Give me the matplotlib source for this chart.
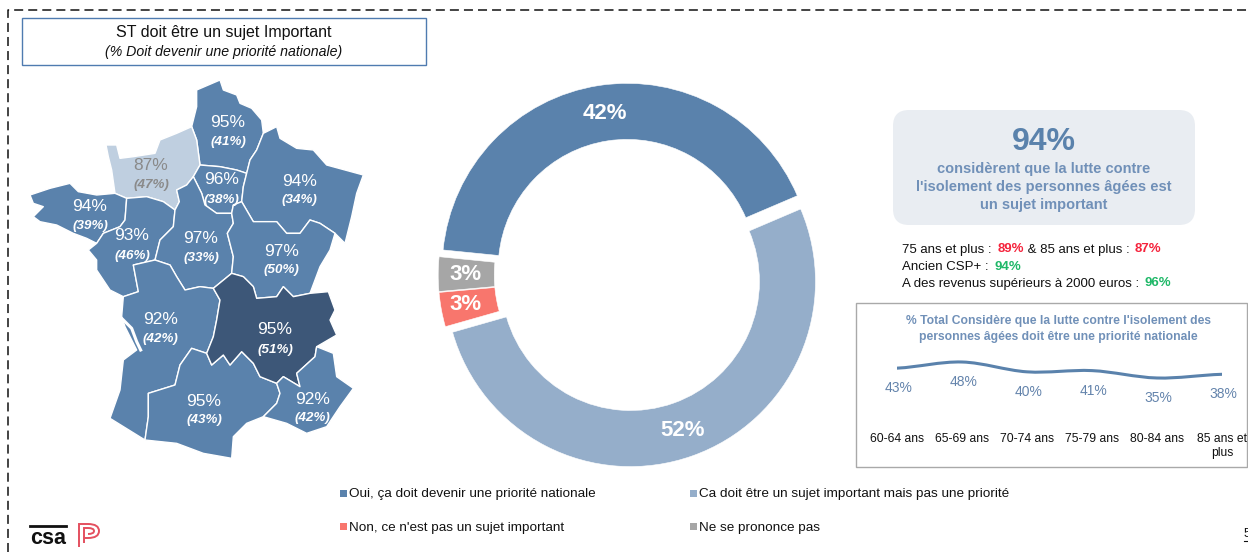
import matplotlib
matplotlib.use("Agg")
import matplotlib.pyplot as plt
from matplotlib.patches import Polygon, Rectangle, FancyBboxPatch, PathPatch
from matplotlib.path import Path

plt.rcParams['font.family'] = ['Liberation Sans', 'DejaVu Sans']

W, H = 1248, 552
DARK = '#5a82ac'
LIGHT = '#95aeca'
NAVY = '#3d5778'
PALE = '#bfcfe0'
RED = '#f8766d'
GRAY = '#a6a6a6'
TXT = '#111111'

# ---- data ----
donut_values = [42, 52, 3, 3]
donut_labels = ['42%', '52%', '3%', '3%']
donut_colors = [DARK, LIGHT, RED, GRAY]
legend_labels = ['Oui, ça doit devenir une priorité nationale',
                 'Ca doit être un sujet important mais pas une priorité',
                 "Non, ce n'est pas un sujet important",
                 'Ne se prononce pas']
age_groups = ['60-64 ans', '65-69 ans', '70-74 ans', '75-79 ans', '80-84 ans', '85 ans et\nplus']
age_values = [43, 48, 40, 41, 35, 38]
region_top = ['95%', '87%', '96%', '94%', '94%', '93%', '97%', '97%', '92%', '95%', '95%', '92%']
region_sub = ['(41%)', '(47%)', '(38%)', '(34%)', '(39%)', '(46%)', '(33%)', '(50%)', '(42%)', '(43%)', '(51%)', '(42%)']

# map outlines, traced in crop coordinates of the map picture
hdf = [(530,60),(600,30),(610,60),(650,75),(660,100),(695,115),(725,150),(730,190),(710,240),(690,270),(680,310),(650,300),(600,290),(540,285),(530,210),(515,170),(520,150),(530,110)]
nor = [(258,225),(290,225),(300,265),(340,260),(405,250),(420,210),(470,190),(515,170),(530,210),(540,285),(520,320),(500,345),(470,360),(478,395),(465,420),(430,395),(380,380),(320,385),(285,370),(275,300),(265,260)]
idf = [(540,285),(600,290),(650,300),(680,310),(670,350),(665,395),(640,405),(635,430),(590,430),(555,405),(545,370),(520,320)]
ges = [(730,190),(770,170),(780,205),(830,235),(880,240),(920,285),(1030,315),(1010,370),(995,440),(975,520),(945,490),(900,460),(870,450),(840,490),(800,490),(770,455),(700,455),(665,395),(670,350),(680,310),(690,270),(710,240)]
bre = [(30,375),(90,355),(150,340),(175,365),(230,375),(285,370),(320,385),(315,450),(300,470),(250,490),(230,520),(200,505),(160,490),(110,465),(60,455),(40,440),(70,410),(40,400)]
pdl = [(320,385),(380,380),(430,395),(465,420),(460,470),(420,510),(405,570),(340,585),(355,665),(310,680),(270,660),(230,600),(230,570),(205,540),(230,520),(250,490),(300,470),(315,450)]
cvl = [(465,420),(478,395),(470,360),(500,345),(520,320),(545,370),(555,405),(590,430),(635,430),(640,460),(622,490),(640,560),(635,610),(580,655),(540,650),(495,660),(470,620),(450,585),(405,570),(420,510),(460,470)]
bfc = [(640,405),(665,395),(700,455),(770,455),(800,490),(840,490),(870,450),(900,460),(945,490),(930,540),(900,590),(870,670),(820,680),(790,650),(770,680),(710,685),(700,650),(670,620),(635,610),(640,560),(622,490),(640,460),(635,430)]
naq = [(340,585),(405,570),(450,585),(470,620),(495,660),(540,650),(580,655),(600,690),(590,750),(580,800),(560,850),(515,835),(480,885),(465,945),(385,970),(385,1040),(375,1110),(270,1045),(300,960),(310,870),(350,840),(315,770),(305,740),(310,680),(355,665)]
occ = [(385,970),(465,945),(480,885),(515,835),(560,850),(575,885),(610,855),(630,885),(665,845),(700,880),(720,920),(770,940),(780,970),(770,1000),(730,1040),(680,1060),(640,1100),(635,1165),(550,1150),(470,1120),(375,1110),(385,1040)]
ara = [(580,655),(635,610),(670,620),(700,650),(710,685),(770,680),(790,650),(820,680),(870,670),(925,665),(945,720),(930,750),(950,795),(890,830),(885,860),(830,910),(840,950),(790,920),(770,940),(720,920),(700,880),(665,845),(630,885),(610,855),(575,885),(560,850),(580,800),(590,750),(600,690)]
pac = [(890,830),(940,850),(950,920),(1000,955),(960,1010),(920,1070),(860,1090),(800,1060),(730,1040),(770,1000),(780,970),(770,940),(790,920),(840,950),(830,910),(885,860)]
regions = [hdf, nor, idf, ges, bre, pdl, cvl, bfc, naq, occ, ara, pac]
region_fill = [DARK, PALE, DARK, DARK, DARK, DARK, DARK, DARK, DARK, DARK, NAVY, DARK]
region_xy = [(624,157),(393,287),(604,330),(838,333),(210,410),(336,498),(543,505),(785,543),(421,748),(552,993),(765,780),(878,987)]
estuary = [(305,745),(335,775),(350,815),(362,840)]


def crop(p):
    return (20 + p[0] / 3, 70 + p[1] / 3)


fig = plt.figure(figsize=(W / 100, H / 100), dpi=100, facecolor='white')
ax = fig.add_axes([0, 0, 1, 1])
ax.set_xlim(0, W)
ax.set_ylim(H, 0)
ax.axis('off')

# dashed frame
ax.plot([8, 8, W], [H, 10, 10], color='#111111', lw=1.1, dashes=(5.9, 3.3), zorder=1)

# title box
ax.add_patch(Rectangle((22, 18), 404, 46.5, fc='white', ec='#4f7bb0', lw=1))
ax.text(224, 33, 'ST doit être un sujet Important', ha='center', va='center', fontsize=11.5, color=TXT)
ax.text(224, 52, '(% Doit devenir une priorité nationale)', ha='center', va='center', fontsize=10.2, style='italic', color=TXT)

# map
for poly, fill in zip(regions, region_fill):
    ax.add_patch(Polygon([crop(p) for p in poly], closed=True, fc=fill, ec='white', lw=1.0, joinstyle='round'))
ex, ey = zip(*[crop(p) for p in estuary])
ax.plot(ex, ey, color='white', lw=2.2)
for (xy, top, sub, fill) in zip(region_xy, region_top, region_sub, region_fill):
    x, y = crop(xy)
    col = '#8a8a8a' if fill == PALE else 'white'
    ax.text(x, y, top, ha='center', va='center', fontsize=12.5, color=col)
    ax.text(x, y + 19.5, sub, ha='center', va='center', fontsize=9.6, color=col, style='italic', weight='bold')

# donut
cx, cy, R = 628.2, 275.1, 185
M = R + 20
dax = fig.add_axes([(cx - M) / W, 1 - (cy + M) / H, 2 * M / W, 2 * M / H])
dax.pie(donut_values, colors=donut_colors, startangle=174.3, counterclock=False, radius=1,
        explode=[0.037, 0.037, 0.027, 0.027],
        wedgeprops=dict(width=0.303, edgecolor='white', linewidth=0.4))
dax.set_xlim(-M / R, M / R)
dax.set_ylim(-M / R, M / R)
dax.set_aspect('equal')
tax = fig.add_axes([0, 0, 1, 1], facecolor='none')
tax.set_xlim(0, W)
tax.set_ylim(H, 0)
tax.axis('off')
for (x, y, lab) in zip([605, 682.7, 465, 465], [113.3, 431, 304, 275], donut_labels):
    tax.text(x, y, lab, ha='center', va='center', fontsize=16, color='white', weight='bold')

# call-out
ax.add_patch(FancyBboxPatch((893, 110), 302, 115, boxstyle='round,pad=0,rounding_size=16',
                            fc='#e9edf2', ec='none'))
ax.text(1044, 142, '94%', ha='center', va='center', fontsize=23, weight='bold', color=DARK)
for y, s in zip([169, 187, 205], ['considèrent que la lutte contre', "l'isolement des personnes âgées est", 'un sujet important']):
    ax.text(1044, y, s, ha='center', va='center', fontsize=10.5, weight='bold', color='#7090b8')

# highlights line by line
def runs(x, y, parts):
    r = fig.canvas.get_renderer()
    for s, c, b in parts:
        t = ax.text(x, y, s, ha='left', va='center', fontsize=9.5, color=c, weight='bold' if b else 'normal')
        bb = t.get_window_extent(r)
        x += bb.width + (2.0 if s.endswith(' ') else 0)

RD, GR = '#f5233c', '#1fb868'
runs(902, 249.5, [('75 ans et plus : ', TXT, False), ('89%', RD, True), (' & 85 ans et plus : ', TXT, False), ('87%', RD, True)])
runs(902, 266.5, [('Ancien CSP+ : ', TXT, False), ('94%', GR, True)])
runs(902, 283.5, [('A des revenus supérieurs à 2000 euros : ', TXT, False), ('96%', GR, True)])

# small line panel
ax.add_patch(Rectangle((856, 303), 391, 164, fc='white', ec='#a9a9a9', lw=1))
ax.text(1058, 321, "% Total Considère que la lutte contre l'isolement des", ha='center', va='center', fontsize=8.7, weight='bold', color='#7090b8')
ax.text(1058, 337, 'personnes âgées doit être une priorité nationale', ha='center', va='center', fontsize=8.7, weight='bold', color='#7090b8')

top_px, bot_px, left_px, right_px = 340, 400, 897, 1222
lax = fig.add_axes([left_px / W, 1 - bot_px / H, (right_px - left_px) / W, (bot_px - top_px) / H], facecolor='none')
xs = list(range(len(age_values)))
lax.set_xlim(0, 5)
lax.set_ylim(48 - (bot_px - 362) / 1.23, 48 + (362 - top_px) / 1.23)
verts = [(xs[0], age_values[0])]
codes = [Path.MOVETO]
for i in range(len(xs) - 1):
    y0 = age_values[max(i - 1, 0)]
    y1, y2 = age_values[i], age_values[i + 1]
    y3 = age_values[min(i + 2, len(xs) - 1)]
    verts += [(xs[i] + 1 / 3, y1 + (y2 - y0) / 6), (xs[i + 1] - 1 / 3, y2 - (y3 - y1) / 6), (xs[i + 1], y2)]
    codes += [Path.CURVE4] * 3
lax.add_patch(PathPatch(Path(verts, codes), fc='none', ec=DARK, lw=2.2, capstyle='round'))
for x, v in zip(xs, age_values):
    lax.annotate(f'{v}%', (x, v), xytext=(1, -14.5), textcoords='offset points', ha='center', va='center',
                 fontsize=10, color='#6484ac', annotation_clip=False)
for s in lax.spines.values():
    s.set_visible(False)
lax.set_yticks([])
lax.set_xticks(xs)
lax.set_xticklabels(age_groups, fontsize=8.7, color=TXT, linespacing=1.2)
lax.tick_params(axis='x', length=0, pad=24)

# legend
leg_x = [340, 690, 340, 690]
leg_y = [493, 493, 526, 526]
for x, y, c, s in zip(leg_x, leg_y, donut_colors[:2] + [RED, GRAY], legend_labels):
    ax.add_patch(Rectangle((x, y - 3), 7, 7, fc=c, ec='none'))
    ax.text(x + 9, y + 1.5, s, ha='left', va='center', fontsize=9.7, color=TXT)

# logos
ax.text(48, 538, 'csa', ha='center', va='center', fontsize=15.5, weight='bold', color='#111111')
ax.plot([30, 66], [526, 526], color='#111111', lw=2)
P1 = Path([(79, 547), (79, 524), (88, 524), (99, 524), (99, 531), (99, 538), (88, 538), (84, 538)],
          [Path.MOVETO, Path.LINETO, Path.LINETO, Path.CURVE3, Path.CURVE3, Path.CURVE3, Path.CURVE3, Path.LINETO])
P2 = Path([(84, 543), (84, 528), (88, 528), (94, 528), (94, 531), (94, 534), (88, 534)],
          [Path.MOVETO, Path.LINETO, Path.LINETO, Path.CURVE3, Path.CURVE3, Path.CURVE3, Path.CURVE3])
for p in (P1, P2):
    ax.add_patch(PathPatch(p, fc='none', ec='#e4505f', lw=1.4))

# page number fragment
ax.text(1246.5, 534, '5', ha='center', va='center', fontsize=9, color=TXT)
ax.plot([1244, W], [541, 541], color=TXT, lw=0.8)

fig.savefig('out.png', dpi=100, facecolor='white')
